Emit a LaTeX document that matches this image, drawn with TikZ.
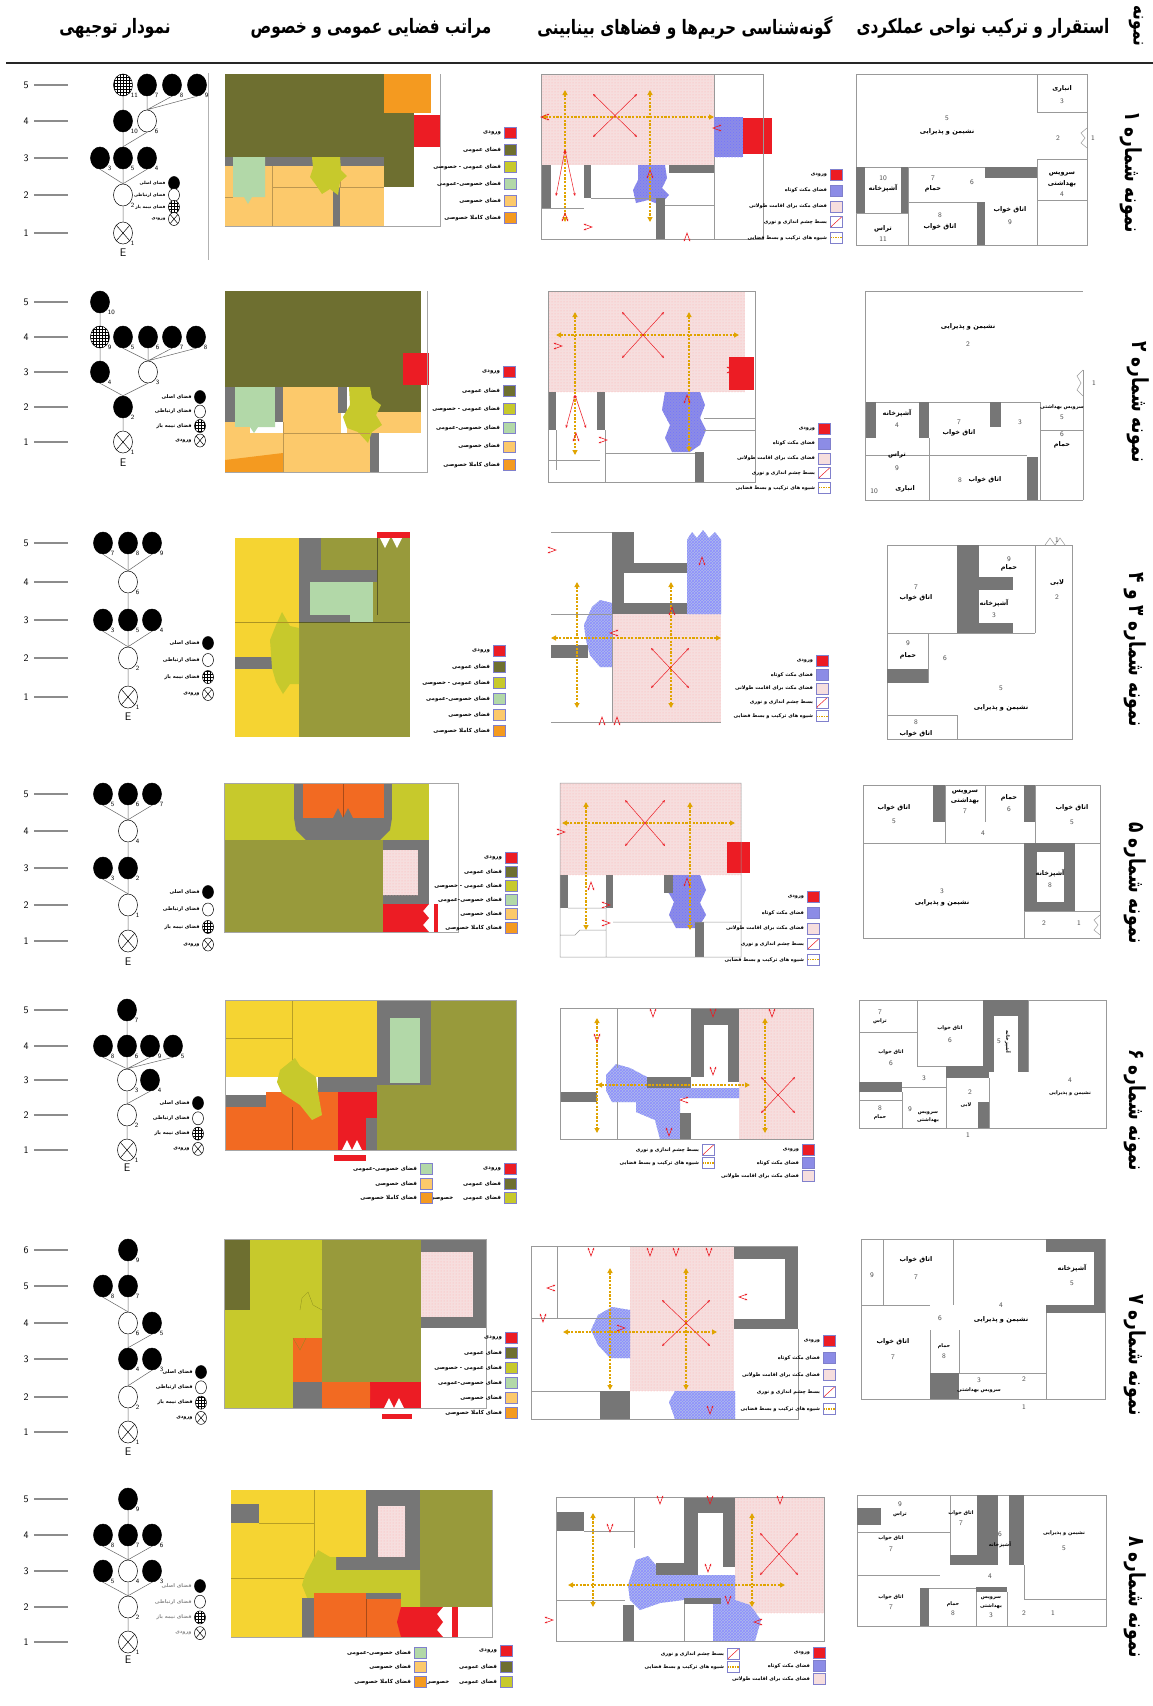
\documentclass[tikz,border=0pt]{standalone}
\usepackage{fontspec}
\usepackage{graphicx}
\newfontfamily\persian[Script=Arabic]{DejaVu Sans}
\TeXXeTstate=1
\usetikzlibrary{shapes.geometric,arrows.meta,patterns}
\definecolor{olv}{HTML}{6E6F30}
\definecolor{olv2}{HTML}{989A3B}
\definecolor{ygr}{HTML}{C7C92C}
\definecolor{lgr}{HTML}{B2D8A8}
\definecolor{lor}{HTML}{FCC96B}
\definecolor{org}{HTML}{F49A20}
\definecolor{ylw}{HTML}{F5D432}
\definecolor{ored}{HTML}{F26A22}
\definecolor{rd}{HTML}{EC1C24}
\definecolor{wll}{HTML}{767676}
\definecolor{pnk}{HTML}{F6DEDE}
\definecolor{blu}{HTML}{8C8CE6}
\definecolor{blu2}{HTML}{AEBCEA}
\definecolor{gld}{HTML}{E0A400}
\newcommand\pfa[1]{{\persian\beginR #1\endR}}
\newcommand\bigfa[1]{\scalebox{1}[1.3]{\pfa{#1}}}
\newcount\nid
\def\tlsz{5}
\tikzset{
 hdr/.style={font=\persian\bfseries\fontsize{15.3}{18}\selectfont, inner sep=0pt},
 rlab/.style={font=\persian\bfseries\fontsize{17}{20}\selectfont, inner sep=0pt, rotate=-90},
 levn/.style={font=\sffamily\fontsize{10}{11}\selectfont, inner sep=0pt},
 levl/.style={draw=black!45, line width=1.3pt},
 tnode/.style={ellipse, draw=black, line width=0.5pt, minimum width=19pt, minimum height=22pt, inner sep=0pt},
 tm/.style={tnode, fill=black},
 tc/.style={tnode, fill=white},
 ts/.style={tnode, preaction={fill=white}, pattern=grid, pattern color=black},
 te/.style={tnode, fill=white, path picture={\draw[line width=0.5pt] (path picture bounding box.south west) -- (path picture bounding box.north east) (path picture bounding box.north west) -- (path picture bounding box.south east);}},
 tl/.style={minimum width=11pt, minimum height=13pt},
 tnum/.style={font=\sffamily\fontsize{6.5}{7}\selectfont, inner sep=0.3pt},
 lab/.style={label={[tnum]-45:#1}},
 efont/.style={font=\sffamily\fontsize{11}{12}\selectfont, inner sep=0pt},
 tedge/.style={draw=black!60, line width=0.5pt},
 tlt/.style={font=\persian\bfseries\fontsize{\tlsz}{6}\selectfont, inner sep=0pt, anchor=east},
 zbox/.style={draw=black!40!blue!50, line width=0.6pt, minimum width=12pt, minimum height=11pt, inner sep=0pt},
 ztxt/.style={font=\persian\bfseries\fontsize{5.5}{6}\selectfont, inner sep=0pt, anchor=east},
 ptxt/.style={font=\persian\bfseries\fontsize{5}{6}\selectfont, inner sep=0pt, anchor=east},
 pview/.style={fill=white, path picture={\draw[rd, line width=0.5pt,-{Stealth[length=2pt]}] (path picture bounding box.north east) -- (path picture bounding box.south west);}},
 pcomp/.style={fill=white, path picture={\draw[gld, line width=1.2pt, dash pattern=on 1.5pt off 1pt] (path picture bounding box.west) -- (path picture bounding box.east);}},
 pinkfill/.style={fill=pnk, postaction={pattern=dots, pattern color=red!30}},
 blufill/.style={fill=blu, postaction={pattern=crosshatch dots, pattern color=blue!55}},
 blu2fill/.style={fill=blu2, postaction={pattern=crosshatch, pattern color=blue!45}},
 plan/.style={draw=black!40, line width=0.5pt},
 garrow/.style={draw=gld, line width=1.6pt, dash pattern=on 2.2pt off 1.4pt, {Triangle[length=5pt,width=5pt]}-{Triangle[length=5pt,width=5pt]}},
 rarrow/.style={draw=rd, line width=0.5pt, {Stealth[length=3pt,width=2.5pt]}-{Stealth[length=3pt,width=2.5pt]}},
 rzig/.style={draw=rd, line width=0.6pt, {Stealth[length=2.5pt,width=2pt]}-{Stealth[length=2.5pt,width=2pt]}},
 fpl/.style={font=\persian\bfseries\fontsize{6.5}{7}\selectfont, inner sep=0pt},
 fps/.style={font=\persian\bfseries\fontsize{5}{6}\selectfont, inner sep=0pt},
 fpn/.style={font=\sffamily\fontsize{7}{8}\selectfont, text=black!70, inner sep=0pt},
}
\newcommand\lev[2]{\global\advance\nid by 1\relax
 \node[levn] (v\the\nid) at (26,#1) {#2};
 \draw[levl] (34,#1) -- (68,#1);}
\newcommand\tleg[4]{\global\advance\nid by 1\relax
 \node[tm,tl] (la\the\nid) at (#1,#2) {};
 \node[tlt,text=#4] (lat\the\nid) at ([xshift=-2.5pt]la\the\nid.west) {\persian\beginR فضای اصلی\endR};
 \node[tc,tl] (lb\the\nid) at (#1,#2+#3) {};
 \node[tlt,text=#4] (lbt\the\nid) at ([xshift=-2.5pt]lb\the\nid.west) {\persian\beginR فضای ارتباطی\endR};
 \node[ts,tl] (lc\the\nid) at (#1,#2+2*#3) {};
 \node[tlt,text=#4] (lct\the\nid) at ([xshift=-2.5pt]lc\the\nid.west) {\persian\beginR فضای نیمه باز\endR};
 \node[te,tl] (ld\the\nid) at (#1,#2+3*#3) {};
 \node[tlt,text=#4] (ldt\the\nid) at ([xshift=-2.5pt]ld\the\nid.west) {\persian\beginR ورودی\endR};}
\newcommand\zitem[4]{\global\advance\nid by 1\relax
 \node[zbox,fill=#3] (zb\the\nid) at (#1,#2) {};
 \node[ztxt] (zt\the\nid) at ([xshift=-2.5pt]zb\the\nid.west) {\persian #4};}
\newcommand\zlegend[3]{%
 \zitem{#1}{#2}{rd}{\beginR ورودی\endR}
 \zitem{#1}{#2+#3}{olv}{\beginR فضای عمومی\endR}
 \zitem{#1}{#2+2*#3}{ygr}{\beginR فضای عمومی - خصوصی\endR}
 \zitem{#1}{#2+3*#3}{lgr}{\beginR فضای خصوصی-عمومی\endR}
 \zitem{#1}{#2+4*#3}{lor}{\beginR فضای خصوصی\endR}
 \zitem{#1}{#2+5*#3}{org}{\beginR فضای کاملا خصوصی\endR}}
\newcommand\pitem[4]{\global\advance\nid by 1\relax
 \node[zbox,#3] (pb\the\nid) at (#1,#2) {};
 \node[ptxt] (pt\the\nid) at ([xshift=-2.5pt]pb\the\nid.west) {\persian #4};}
\newcommand\plegend[3]{%
 \pitem{#1}{#2}{fill=rd}{\beginR ورودی\endR}
 \pitem{#1}{#2+#3}{fill=blu}{\beginR فضای مکث کوتاه\endR}
 \pitem{#1}{#2+2*#3}{fill=pnk}{\beginR فضای مکث برای اقامت طولانی\endR}
 \pitem{#1}{#2+3*#3}{pview}{\beginR بسط چشم اندازی و نوری\endR}
 \pitem{#1}{#2+4*#3}{pcomp}{\beginR شیوه های ترکیب و بسط فضایی\endR}}
\newcommand\vmark[3]{\draw[rzig] ([shift={(#3+20:9)}]#1,#2) -- (#1,#2) -- ([shift={(#3-20:9)}]#1,#2);}
\begin{document}
\begin{tikzpicture}[x=1pt,y=-1pt]
\useasboundingbox (0,0) rectangle (1153,1706);
\fill[white] (0,0) rectangle (1153,1706);
% ---------------- header ----------------
\node[hdr] (h1) at (115,28) {\bigfa{نمودار توجیهی}};
\node[hdr] (h2) at (371,28) {\bigfa{مراتب فضایی عمومی و خصوص}};
\node[hdr] (h3) at (685,28) {\bigfa{گونه^^^^200cشناسی حریم^^^^200cها و فضاهای بینابینی}};
\node[hdr] (h4) at (983,28) {\bigfa{استقرار و ترکیب نواحی عملکردی}};
\node[hdr,rotate=-90] (h5) at (1136,26) {\bigfa{نمونه}};
\draw[black!85, line width=1.8pt] (6,63) -- (1153,63);
% ================= ROW 1 =================
\lev{85}{5}\lev{121}{4}\lev{158}{3}\lev{195}{2}\lev{233}{1}
\node[te,lab=1] (a1) at (123,233) {};
\node[efont] (aE) at (123,253) {E};
\node[tc,lab=2] (a2) at (123,195) {};
\node[tm,lab=3] (a3) at (100,158) {};
\node[tm,lab=5] (a5) at (123,158) {};
\node[tm,lab=4] (a4) at (147,158) {};
\node[tm,lab=10] (a10) at (123,121) {};
\node[tc,lab=6] (a6) at (147,121) {};
\node[ts,lab=11] (a11) at (123,85) {};
\node[tm,lab=7] (a7) at (147,85) {};
\node[tm,lab=8] (a8) at (172,85) {};
\node[tm,lab=9] (a9) at (197,85) {};
\draw[tedge] (a1)--(a2) (a2.north)--(a3.south) (a2.north)--(a5.south) (a2.north)--(a4.south) (a5)--(a10) (a5.north)--(a6.south) (a10)--(a11) (a6.north)--(a7.south) (a6.north)--(a8.south) (a6.north)--(a9.south);
\def\tlsz{4.3}
\tleg{174}{183}{12}{black}
\def\tlsz{5}
\draw[black!30, line width=0.5pt] (208,73) -- (208,260);
% zoning 1
\fill[olv] (225,74) rectangle (414,157);
\fill[olv] (384,157) rectangle (414,187);
\fill[org] (384,74) rectangle (431,113);
\fill[rd] (414,115) rectangle (440,147);
\fill[wll] (225,157) rectangle (384,166);
\fill[lor] (225,166) rectangle (384,226);
\fill[lgr] (233,157) -- (265,157) -- (265,197) -- (252,197) -- (248,204) -- (244,197) -- (233,197) -- cycle;
\fill[wll] (333,187) rectangle (340,226);
\draw[lor!75!black, line width=0.3pt] (272,166) -- (272,226) (225,197) -- (233,197) (272,187) -- (384,187) (340,166) -- (340,187);
\fill[ygr] (312,157) -- (340,157) -- (341,170) -- (347,176) -- (340,182) -- (338,195) -- (330,189) -- (322,194) -- (316,185) -- (310,177) -- (313,168) -- cycle;
\draw[black!35, line width=0.4pt] (440,74) -- (440,226) -- (225,226);
\zlegend{510}{133}{17}
% pink plan 1
\path[pinkfill] (541,74) rectangle (714,165);
\path[blufill] (714,117) rectangle (743,157);
\fill[rd] (743,118) rectangle (772,154);
\path[blufill] (638,165) -- (665,165) -- (667,178) -- (662,188) -- (669,195) -- (660,205) -- (648,200) -- (636,203) -- (633,190) -- (638,180) -- cycle;
\fill[wll] (541,165) rectangle (551,208);
\fill[wll] (584,165) rectangle (591,198);
\fill[wll] (656,198) rectangle (665,239);
\fill[wll] (669,165) rectangle (714,173);
\draw[plan] (541,74) rectangle (763,239) (714,74) -- (714,117) (714,157) -- (714,239) (541,208) -- (584,208) (591,198) -- (656,198) (665,205) -- (714,205);
\draw[garrow] (541,117) -- (714,117);
\draw[garrow] (565,90) -- (565,222);
\draw[garrow] (650,90) -- (650,222);
\draw[rarrow] (593,94) -- (637,137);
\draw[rarrow] (637,94) -- (593,137);
\draw[rarrow] (565,150) -- (556,196);
\draw[rarrow] (565,150) -- (575,196);
\vmark{541}{117}{0}\vmark{713}{128}{0}\vmark{687}{233}{90}\vmark{592}{227}{180}\vmark{565}{213}{90}\vmark{650}{170}{90}
\plegend{836}{175}{15.7}
% floor plan 1
\draw[plan] (856,74) rectangle (1087,245) (1037,74) rectangle (1087,112) (1037,159) rectangle (1087,200) (1037,200) -- (1037,245) (856,167) -- (1037,167) (908,202) -- (985,202) (856,213) -- (908,213) (908,167) -- (908,245);
\fill[wll] (856,167) rectangle (865,213);
\fill[wll] (901,167) rectangle (908,213);
\fill[wll] (985,167) rectangle (1037,178);
\fill[wll] (977,202) rectangle (985,245);
\draw[plan] (1087,128) -- (1081,133) -- (1085,138) -- (1081,143) -- (1087,148);
\node[fpn] (f11) at (947,118) {5};
\node[fpl] (f12) at (947,132) {\pfa{نشیمن و پذیرایی}};
\node[fpl] (f13) at (1062,89) {\pfa{انباری}};
\node[fpn] (f14) at (1062,101) {3};
\node[fpn] (f15) at (1058,138) {2};
\node[fpn] (f16) at (1093,138) {1};
\node[fpl] (f17) at (1062,174) {\pfa{سرویس}};
\node[fpl] (f18) at (1062,184) {\pfa{بهداشتی}};
\node[fpn] (f19) at (1062,194) {4};
\node[fpn] (f110) at (883,178) {10};
\node[fpl] (f111) at (883,188) {\pfa{آشپزخانه}};
\node[fpn] (f112) at (933,178) {7};
\node[fpl] (f113) at (933,189) {\pfa{حمام}};
\node[fpn] (f114) at (972,182) {6};
\node[fpn] (f115) at (940,215) {8};
\node[fpl] (f116) at (940,227) {\pfa{اتاق خواب}};
\node[fpl] (f117) at (1010,210) {\pfa{اتاق خواب}};
\node[fpn] (f118) at (1010,222) {9};
\node[fpl] (f119) at (883,229) {\pfa{تراس}};
\node[fpn] (f120) at (883,239) {11};
\node[rlab] (r1) at (1131,172) {\bigfa{نمونه شماره ۱}};
% ================= ROW 2 =================
\lev{302}{5}\lev{337}{4}\lev{372}{3}\lev{407}{2}\lev{442}{1}
\node[te,lab=1] (b1) at (123,442) {};
\node[efont] (bE) at (123,463) {E};
\node[tm,lab=2] (b2) at (123,407) {};
\node[tm,lab=4] (b4) at (100,372) {};
\node[tc,lab=3] (b3) at (148,372) {};
\node[ts,lab=9] (b9) at (100,337) {};
\node[tm,lab=5] (b5) at (123,337) {};
\node[tm,lab=6] (b6) at (148,337) {};
\node[tm,lab=7] (b7) at (172,337) {};
\node[tm,lab=8] (b8) at (196,337) {};
\node[tm,lab=10] (b10) at (100,302) {};
\draw[tedge] (b1)--(b2) (b2.north)--(b4.south) (b2.north)--(b3.south) (b4)--(b9) (b9)--(b10) (b3.north)--(b5.south) (b3.north)--(b6.south) (b3.north)--(b7.south) (b3.north)--(b8.south);
\tleg{200}{397}{14.5}{black}
% zoning 2
\fill[olv] (225,291) rectangle (421,387);
\fill[olv] (370,387) rectangle (421,412);
\fill[rd] (403,353) rectangle (429,385);
\fill[wll] (225,387) rectangle (235,422);
\fill[lgr] (235,387) -- (275,387) -- (275,427) -- (258,427) -- (254,433) -- (250,427) -- (235,427) -- cycle;
\fill[wll] (275,387) rectangle (283,422);
\fill[lor] (283,387) rectangle (341,433);
\fill[wll] (338,387) rectangle (347,413);
\fill[lor] (347,412) rectangle (421,433);
\fill[lor] (225,427) rectangle (250,472);
\fill[lor] (250,433) rectangle (283,472);
\fill[lor] (225,422) rectangle (235,427);
\fill[lor] (283,433) rectangle (370,472);
\fill[org] (225,460) -- (283,453) -- (283,472) -- (225,472) -- cycle;
\fill[wll] (370,433) rectangle (379,472);
\fill[ygr] (349,387) -- (370,387) -- (372,398) -- (381,405) -- (376,415) -- (382,425) -- (372,432) -- (368,443) -- (358,432) -- (347,428) -- (343,417) -- (350,405) -- cycle;
\draw[lor!75!black, line width=0.3pt] (283,433) -- (370,433) (283,422) -- (283,472);
\draw[black!35, line width=0.4pt] (427,291) -- (427,472) -- (225,472);
\zlegend{509}{372}{18.6}
% pink plan 2
\path[pinkfill] (548,291) rectangle (745,392);
\fill[rd] (729,357) rectangle (754,390);
\path[blufill] (665,392) -- (700,392) -- (705,405) -- (700,418) -- (706,430) -- (700,445) -- (690,452) -- (672,452) -- (665,438) -- (670,425) -- (662,410) -- cycle;
\fill[wll] (548,392) rectangle (556,430);
\fill[wll] (597,392) rectangle (605,430);
\fill[wll] (695,452) rectangle (704,482);
\draw[plan] (548,291) rectangle (755,482) (548,460) -- (600,460) (605,453) -- (695,453) (704,418) -- (755,418) (704,430) -- (755,430) (605,430) -- (605,482) (556,430) -- (556,470);
\draw[garrow] (556,335) -- (739,335);
\draw[garrow] (575,312) -- (575,455);
\draw[garrow] (689,312) -- (689,452);
\draw[rarrow] (622,312) -- (664,358);
\draw[rarrow] (664,312) -- (622,358);
\draw[rarrow] (575,395) -- (566,428);
\draw[rarrow] (575,395) -- (586,428);
\vmark{562}{346}{180}\vmark{607}{440}{180}\vmark{576}{433}{90}\vmark{687}{395}{90}\vmark{735}{370}{180}
\plegend{824}{429}{14.7}
% floor plan 2
\draw[plan] (865,291) -- (1083,291) (865,291) -- (865,500) -- (1083,500) (1083,370) -- (1083,500) (865,402) -- (1040,402) (1040,402) -- (1040,500) (1040,430) -- (1083,430) (865,455) -- (929,455) (929,438) -- (929,500) (929,455) -- (1027,455);
\draw[plan] (1083,370) -- (1077,376) -- (1081,383) -- (1077,390) -- (1083,396);
\fill[wll] (866,402) rectangle (876,438);
\fill[wll] (919,402) rectangle (929,438);
\fill[wll] (990,402) rectangle (1001,427);
\fill[wll] (1027,457) rectangle (1038,500);
\node[fpl] (f21) at (968,327) {\pfa{نشیمن و پذیرایی}};
\node[fpn] (f22) at (968,344) {2};
\node[fpn] (f23) at (1094,383) {1};
\node[fpl] (f24) at (897,413) {\pfa{آشپزخانه}};
\node[fpn] (f25) at (897,425) {4};
\node[fpn] (f26) at (959,422) {7};
\node[fpl] (f27) at (959,433) {\pfa{اتاق خواب}};
\node[fpn] (f28) at (1020,422) {3};
\node[fps] (f29) at (1062,407) {\pfa{سرویس بهداشتی}};
\node[fpn] (f210) at (1062,417) {5};
\node[fpn] (f211) at (1062,434) {6};
\node[fpl] (f212) at (1062,445) {\pfa{حمام}};
\node[fpl] (f213) at (897,455) {\pfa{تراس}};
\node[fpn] (f214) at (897,468) {9};
\node[fpn] (f215) at (960,480) {8};
\node[fpl] (f216) at (985,480) {\pfa{اتاق خواب}};
\node[fpn] (f217) at (874,491) {10};
\node[fpl] (f218) at (905,489) {\pfa{انباری}};
\node[rlab] (r2) at (1138,402) {\bigfa{نمونه شماره ۲}};
% ================= ROW 3 =================
\lev{543}{5}\lev{582}{4}\lev{620}{3}\lev{658}{2}\lev{697}{1}
\node[te,lab=1] (c1) at (128,697) {};
\node[efont] (cE) at (128,717) {E};
\node[tc,lab=2] (c2) at (128,658) {};
\node[tm,lab=3] (c3) at (103,620) {};
\node[tm,lab=5] (c5) at (128,620) {};
\node[tm,lab=4] (c4) at (152,620) {};
\node[tc,lab=6] (c6) at (128,582) {};
\node[tm,lab=7] (c7) at (103,543) {};
\node[tm,lab=8] (c8) at (128,543) {};
\node[tm,lab=9] (c9) at (152,543) {};
\draw[tedge] (c1)--(c2) (c2.north)--(c3.south) (c2.north)--(c5.south) (c2.north)--(c4.south) (c5)--(c6) (c6.north)--(c7.south) (c6.north)--(c8.south) (c6.north)--(c9.south);
\tleg{208}{643}{17}{black}
% zoning 3
\fill[ylw] (235,538) rectangle (299,737);
\fill[olv2] (299,538) rectangle (410,737);
\fill[wll] (299,538) rectangle (321,570);
\fill[wll] (299,570) rectangle (377,582);
\fill[wll] (299,582) rectangle (310,623);
\fill[lgr] (310,582) rectangle (373,623);
\fill[wll] (299,615) rectangle (350,623);
\fill[rd] (377,532) rectangle (410,538);
\fill[white] (380,538) -- (385,548) -- (390,538) -- cycle;
\fill[white] (392,538) -- (397,548) -- (402,538) -- cycle;
\draw[olv!80!black, line width=0.4pt] (377,538) -- (377,615) (299,622) -- (410,622);
\fill[wll] (235,657) rectangle (277,669);
\fill[ygr] (270,640) -- (276,625) -- (282,612) -- (290,626) -- (299,628) -- (299,684) -- (290,684) -- (283,694) -- (276,682) -- (272,668) -- cycle;
\draw[ylw!70!black, line width=0.3pt] (235,622) -- (299,622);
\zlegend{499}{651}{16}
% pink plan 3
\path[pinkfill] (612,614) rectangle (721,722);
\path[blu2fill] (687,540) -- (692,532) -- (697,538) -- (703,530) -- (709,538) -- (715,532) -- (721,540) -- (721,614) -- (687,614) -- cycle;
\path[blu2fill] (584,625) -- (592,607) -- (600,600) -- (612,603) -- (612,667) -- (600,667) -- (590,655) -- (586,640) -- cycle;
\fill[wll] (612,532) rectangle (634,563);
\fill[wll] (612,563) rectangle (687,573);
\fill[wll] (612,573) rectangle (624,614);
\fill[wll] (624,603) rectangle (687,614);
\fill[wll] (551,645) rectangle (588,658);
\draw[plan] (551,532) -- (612,532) (551,614) -- (612,614) (551,722) -- (721,722) (612,614) -- (612,722);
\draw[garrow] (551,638) -- (721,638);
\draw[garrow] (577,582) -- (577,708);
\draw[garrow] (671,582) -- (671,708);
\draw[rarrow] (651,648) -- (689,688);
\draw[rarrow] (689,648) -- (651,688);
\vmark{556}{550}{180}\vmark{602}{717}{90}\vmark{617}{717}{90}\vmark{702}{557}{90}\vmark{672}{607}{90}\vmark{610}{633}{0}
\plegend{822}{661}{13.8}
% floor plan 3
\draw[plan] (887,545) rectangle (1072,739) (887,633) -- (1035,633) (1035,545) -- (1035,633) (928,633) -- (928,683) (887,715) -- (957,715) (957,715) -- (957,739) (957,545) -- (957,633);
\draw[plan] (1045,545) -- (1050,538) -- (1055,545) -- (1060,538) -- (1065,545);
\fill[wll] (957,545) rectangle (979,633);
\fill[wll] (979,577) rectangle (1013,590);
\fill[wll] (957,623) rectangle (1013,633);
\fill[wll] (887,669) rectangle (928,683);
\node[fpn] (f31) at (1009,559) {9};
\node[fpl] (f32) at (1009,568) {\pfa{حمام}};
\node[fpl] (f33) at (1057,583) {\pfa{لابی}};
\node[fpn] (f34) at (1057,597) {2};
\node[fpn] (f35) at (1057,540) {1};
\node[fpn] (f36) at (916,587) {7};
\node[fpl] (f37) at (916,598) {\pfa{اتاق خواب}};
\node[fpl] (f38) at (994,603) {\pfa{آشپزخانه}};
\node[fpn] (f39) at (994,615) {3};
\node[fpn] (f310) at (908,643) {9};
\node[fpl] (f311) at (908,656) {\pfa{حمام}};
\node[fpn] (f312) at (945,658) {6};
\node[fpn] (f313) at (1001,688) {5};
\node[fpl] (f314) at (1001,708) {\pfa{نشیمن و پذیرایی}};
\node[fpn] (f315) at (916,722) {8};
\node[fpl] (f316) at (916,734) {\pfa{اتاق خواب}};
\node[rlab] (r3) at (1135,650) {\bigfa{نمونه شماره ۳ و ۴}};
% ================= ROW 4 =================
\lev{794}{5}\lev{831}{4}\lev{868}{3}\lev{905}{2}\lev{941}{1}
\node[te] (d1) at (128,941) {};
\node[efont] (dE) at (128,962) {E};
\node[tc,lab=1] (d2) at (128,905) {};
\node[tm,lab=3] (d3) at (103,868) {};
\node[tm,lab=2] (d3b) at (128,868) {};
\node[tc,lab=4] (d4) at (128,831) {};
\node[tm,lab=5] (d5) at (103,794) {};
\node[tm,lab=6] (d6) at (128,794) {};
\node[tm,lab=7] (d7) at (152,794) {};
\draw[tedge] (d1)--(d2) (d2.north)--(d3.south) (d2.north)--(d3b.south) (d3b)--(d4) (d4.north)--(d5.south) (d4.north)--(d6.south) (d4.north)--(d7.south);
\tleg{208}{892}{17.5}{black}
% zoning 4
\fill[ygr] (224,783) rectangle (429,840);
\fill[wll] (294,783) rectangle (392,818);
\fill[ored] (303,783) rectangle (384,818);
\draw[ored!70!black, line width=0.3pt] (343,783) -- (343,818);
\fill[wll] (294,818) -- (333,818) -- (338,808) -- (343,818) -- (348,808) -- (353,818) -- (392,818) -- (390,830) -- (380,840) -- (306,840) -- (296,830) -- cycle;
\fill[olv2] (224,840) rectangle (383,932);
\fill[wll] (383,840) rectangle (429,904);
\path[pinkfill] (383,850) rectangle (418,895);
\fill[rd] (383,904) -- (429,904) -- (423,911) -- (429,918) -- (423,925) -- (429,932) -- (383,932) -- cycle;
\fill[rd] (434,904) rectangle (438,932);
\draw[black!35, line width=0.4pt] (224,783) rectangle (458,932);
\zlegend{511}{858}{14}
% pink plan 4
\path[pinkfill] (560,783) rectangle (741,875);
\fill[rd] (727,842) rectangle (750,873);
\path[blufill] (669,875) -- (700,875) -- (706,890) -- (700,903) -- (706,915) -- (698,928) -- (676,928) -- (669,915) -- (674,902) -- (667,890) -- cycle;
\fill[wll] (560,875) rectangle (568,908);
\fill[wll] (606,875) rectangle (613,908);
\fill[wll] (664,875) rectangle (673,893);
\fill[wll] (695,922) rectangle (704,957);
\draw[plan] (560,783) rectangle (741,957) (568,908) -- (606,908) (613,922) -- (741,922) (606,908) -- (606,957) (560,935) -- (575,935) -- (580,930) -- (606,930);
\draw[garrow] (562,823) -- (735,823);
\draw[garrow] (586,802) -- (586,930);
\draw[garrow] (690,802) -- (690,930);
\draw[rarrow] (625,800) -- (665,846);
\draw[rarrow] (665,800) -- (625,846);
\vmark{565}{832}{180}\vmark{591}{882}{90}\vmark{610}{923}{180}\vmark{687}{878}{90}\vmark{610}{905}{180}
\plegend{813}{897}{15.7}
% floor plan 4
\draw[plan] (863,785) rectangle (1100,938) (863,843) -- (1100,843) (945,785) -- (945,843) (985,785) -- (985,822) (1035,785) -- (1035,843) (1024,911) -- (1100,911) (1024,843) -- (1024,938);
\draw[plan] (1100,915) -- (1094,920) -- (1098,925) -- (1094,930) -- (1100,935);
\fill[wll] (933,785) rectangle (945,822);
\fill[wll] (1024,785) rectangle (1035,822);
\fill[wll] (1024,843) rectangle (1075,911);
\fill[white] (1037,852) rectangle (1064,902);
\node[fpl] (f41) at (894,808) {\pfa{اتاق خواب}};
\node[fpn] (f42) at (894,821) {5};
\node[fpl] (f43) at (965,792) {\pfa{سرویس}};
\node[fpl] (f44) at (965,801) {\pfa{بهداشتی}};
\node[fpn] (f45) at (965,811) {7};
\node[fpl] (f46) at (1009,798) {\pfa{حمام}};
\node[fpn] (f47) at (1009,809) {6};
\node[fpl] (f48) at (1072,808) {\pfa{اتاق خواب}};
\node[fpn] (f49) at (1072,822) {5};
\node[fpn] (f410) at (983,833) {4};
\node[fpl] (f411) at (1050,873) {\pfa{آشپزخانه}};
\node[fpn] (f412) at (1050,885) {8};
\node[fpn] (f413) at (942,891) {3};
\node[fpl] (f414) at (942,903) {\pfa{نشیمن و پذیرایی}};
\node[fpn] (f415) at (1044,923) {2};
\node[fpn] (f416) at (1079,923) {1};
\node[rlab] (r4) at (1135,883) {\bigfa{نمونه شماره ۵}};
% ================= ROW 5 =================
\lev{1010}{5}\lev{1046}{4}\lev{1080}{3}\lev{1115}{2}\lev{1150}{1}
\node[te,lab=1] (e1) at (127,1150) {};
\node[efont] (eE) at (127,1168) {E};
\node[tc,lab=2] (e2) at (127,1115) {};
\node[tc,lab=3] (e3) at (127,1080) {};
\node[tm,lab=4] (e4) at (150,1080) {};
\node[tm,lab=8] (e8) at (103,1046) {};
\node[tm,lab=6] (e6) at (127,1046) {};
\node[tm,lab=9] (e9) at (150,1046) {};
\node[tm,lab=5] (e5) at (173,1046) {};
\node[tm,lab=7] (e7) at (127,1010) {};
\draw[tedge] (e1)--(e2) (e2)--(e3) (e2.north)--(e4.south) (e3.north)--(e8.south) (e3.north)--(e6.south) (e3.north)--(e9.south) (e3.north)--(e5.south) (e6)--(e7);
\tleg{198}{1103}{15.3}{black}
% zoning 5
\fill[ylw] (225,1000) rectangle (377,1077);
\draw[ylw!75!black, line width=0.3pt] (292,1000) -- (292,1077) (225,1038) -- (292,1038);
\fill[wll] (377,1000) rectangle (431,1085);
\fill[lgr] (390,1018) rectangle (420,1083);
\fill[olv2] (431,1000) rectangle (516,1150);
\fill[olv2] (377,1085) rectangle (431,1150);
\fill[wll] (225,1095) rectangle (266,1107);
\fill[wll] (318,1077) rectangle (377,1092);
\fill[ored] (225,1107) rectangle (338,1150);
\fill[ored] (266,1092) rectangle (338,1107);
\fill[rd] (338,1092) rectangle (377,1150);
\fill[wll] (366,1118) rectangle (377,1150);
\fill[white] (342,1150) -- (347,1140) -- (352,1150) -- (357,1140) -- (362,1150) -- cycle;
\fill[ygr] (280,1070) -- (295,1058) -- (300,1066) -- (316,1077) -- (318,1092) -- (322,1115) -- (312,1120) -- (300,1105) -- (282,1093) -- (277,1082) -- cycle;
\draw[ored!70!black, line width=0.3pt] (292,1107) -- (292,1150);
\fill[rd] (334,1155) rectangle (366,1161);
\draw[black!35, line width=0.4pt] (225,1000) rectangle (516,1150);
\zitem{510}{1169}{rd}{\beginR ورودی\endR}
\zitem{510}{1184}{olv}{\beginR فضای عمومی\endR}
\zitem{510}{1198}{ygr}{\beginR فضای عمومی \hspace{6pt} خصوصی\endR}
\zitem{426}{1169}{lgr}{\beginR فضای خصوصی-عمومی\endR}
\zitem{426}{1184}{lor}{\beginR فضای خصوصی\endR}
\zitem{426}{1198}{org}{\beginR فضای کاملا خصوصی\endR}
% pink plan 5
\path[pinkfill] (739,1008) rectangle (813,1139);
\path[blu2fill] (606,1075) -- (616,1064) -- (630,1068) -- (647,1077) -- (647,1088) -- (739,1088) -- (739,1098) -- (680,1098) -- (680,1139) -- (660,1139) -- (655,1120) -- (636,1112) -- (636,1102) -- (612,1102) -- (606,1090) -- cycle;
\fill[wll] (691,1008) rectangle (739,1025);
\fill[wll] (691,1008) rectangle (704,1077);
\fill[wll] (728,1008) rectangle (739,1082);
\fill[wll] (647,1077) rectangle (691,1088);
\fill[wll] (680,1113) rectangle (691,1139);
\fill[wll] (560,1092) rectangle (597,1102);
\draw[plan] (560,1008) rectangle (813,1139) (617,1008) -- (617,1068) (617,1102) -- (617,1139);
\draw[garrow] (597,1085) -- (750,1085);
\draw[garrow] (597,1018) -- (597,1133);
\draw[garrow] (765,1018) -- (765,1133);
\draw[rarrow] (761,1077) -- (795,1113);
\draw[rarrow] (795,1077) -- (761,1113);
\vmark{653}{1017}{-90}\vmark{713}{1017}{-90}\vmark{772}{1017}{-90}\vmark{597}{1042}{-90}\vmark{713}{1075}{-90}\vmark{669}{1136}{-90}\vmark{680}{1100}{0}
\pitem{808}{1150}{fill=rd}{\beginR ورودی\endR}
\pitem{808}{1163}{fill=blu}{\beginR فضای مکث کوتاه\endR}
\pitem{808}{1176}{fill=pnk}{\beginR فضای مکث برای اقامت طولانی\endR}
\pitem{708}{1150}{pview}{\beginR بسط چشم اندازی و نوری\endR}
\pitem{708}{1163}{pcomp}{\beginR شیوه های ترکیب و بسط فضایی\endR}
% floor plan 5
\draw[plan] (859,1000) rectangle (1106,1128) (917,1000) -- (917,1066) (859,1032) -- (917,1032) (917,1066) -- (946,1066) (902,1087) -- (946,1087) (946,1078) -- (946,1128) (989,1078) -- (989,1128) (1028,1072) -- (1028,1000) (859,1100) -- (902,1100) (902,1092) -- (902,1128);
\fill[wll] (983,1000) rectangle (1028,1016);
\fill[wll] (983,1000) rectangle (994,1072);
\fill[wll] (1018,1000) rectangle (1028,1072);
\fill[wll] (946,1066) rectangle (989,1078);
\fill[wll] (859,1082) rectangle (902,1092);
\fill[wll] (978,1102) rectangle (989,1128);
\node[fpn] (f51) at (880,1012) {7};
\node[fps] (f52) at (880,1021) {\pfa{تراس}};
\node[fps] (f53) at (950,1028) {\pfa{اتاق خواب}};
\node[fpn] (f54) at (950,1040) {6};
\node[fpn] (f55) at (999,1041) {5};
\node[fps,rotate=-90] (f56) at (1008,1042) {\pfa{آشپزخانه}};
\node[fps] (f57) at (891,1052) {\pfa{اتاق خواب}};
\node[fpn] (f58) at (891,1063) {6};
\node[fpn] (f59) at (924,1078) {3};
\node[fpn] (f510) at (970,1092) {2};
\node[fps] (f511) at (966,1105) {\pfa{لابی}};
\node[fpn] (f512) at (1070,1080) {4};
\node[fps] (f513) at (1070,1093) {\pfa{نشیمن و پذیرایی}};
\node[fpn] (f514) at (880,1108) {8};
\node[fps] (f515) at (880,1117) {\pfa{حمام}};
\node[fpn] (f516) at (910,1109) {9};
\node[fps] (f517) at (928,1113) {\pfa{سرویس}};
\node[fps] (f518) at (928,1120) {\pfa{بهداشتی}};
\node[fpn] (f519) at (968,1135) {1};
\node[rlab] (r5) at (1135,1110) {\bigfa{نمونه شماره ۶}};
% ================= ROW 6 =================
\lev{1250}{6}\lev{1286}{5}\lev{1323}{4}\lev{1359}{3}\lev{1397}{2}\lev{1432}{1}
\node[te,lab=1] (g1) at (128,1432) {};
\node[efont] (gE) at (128,1452) {E};
\node[tc,lab=2] (g2) at (128,1397) {};
\node[tm,lab=4] (g4) at (128,1359) {};
\node[tm,lab=3] (g3) at (152,1359) {};
\node[tc,lab=6] (g6) at (128,1323) {};
\node[tm,lab=5] (g5) at (152,1323) {};
\node[tm,lab=8] (g8) at (103,1286) {};
\node[tm,lab=7] (g7) at (128,1286) {};
\node[tm,lab=9] (g9) at (128,1250) {};
\draw[tedge] (g1)--(g2) (g2)--(g4) (g2.north)--(g3.south) (g4)--(g6) (g4.north)--(g5.south) (g6)--(g7) (g6.north)--(g8.south) (g7)--(g9);
\tleg{201}{1372}{15.3}{black}
% zoning 6
\fill[olv] (224,1239) rectangle (250,1310);
\fill[ygr] (250,1239) rectangle (322,1310);
\fill[ygr] (224,1310) rectangle (322,1408);
\fill[olv2] (322,1239) rectangle (421,1382);
\fill[wll] (421,1239) rectangle (486,1328);
\path[pinkfill] (421,1252) rectangle (473,1317);
\fill[ored] (293,1338) rectangle (322,1382);
\fill[wll] (293,1382) rectangle (322,1408);
\fill[ored] (322,1382) rectangle (370,1408);
\fill[rd] (370,1382) rectangle (421,1408);
\fill[ored] (360,1390) -- (370,1386) -- (370,1400) -- cycle;
\fill[white] (384,1408) -- (389,1398) -- (394,1408) -- (399,1398) -- (404,1408) -- cycle;
\fill[rd] (382,1414) rectangle (412,1419);
\draw[ygr!70!black, line width=0.3pt] (300,1310) -- (302,1298) -- (308,1292) -- (313,1305) -- (322,1310) (293,1338) -- (300,1350) -- (306,1338);
\draw[black!35, line width=0.4pt] (224,1239) rectangle (486,1408);
\zlegend{511}{1338}{15}
% pink plan 6
\path[pinkfill] (630,1246) rectangle (734,1391);
\fill[wll] (734,1246) rectangle (798,1259);
\fill[wll] (785,1246) rectangle (798,1329);
\fill[wll] (734,1319) rectangle (798,1329);
\fill[wll] (600,1391) rectangle (630,1419);
\path[blu2fill] (591,1330) -- (598,1315) -- (612,1307) -- (630,1310) -- (630,1358) -- (610,1358) -- (598,1345) -- cycle;
\path[blu2fill] (669,1402) -- (675,1391) -- (735,1391) -- (735,1419) -- (675,1419) -- cycle;
\draw[plan] (531,1246) -- (798,1246) (531,1246) -- (531,1419) -- (798,1419) -- (798,1329) (557,1246) -- (557,1318) (531,1318) -- (630,1318) (531,1391) -- (600,1391);
\draw[garrow] (563,1332) -- (717,1332);
\draw[garrow] (610,1268) -- (610,1390);
\draw[garrow] (686,1268) -- (686,1390);
\draw[rarrow] (662,1300) -- (710,1346);
\draw[rarrow] (710,1300) -- (662,1346);
\vmark{591}{1256}{-90}\vmark{650}{1256}{-90}\vmark{676}{1256}{-90}\vmark{709}{1256}{-90}\vmark{547}{1288}{0}\vmark{543}{1322}{-90}\vmark{739}{1297}{0}\vmark{625}{1328}{180}\vmark{710}{1414}{-90}
\plegend{829}{1341}{17}
% floor plan 6
\draw[plan] (861,1239) rectangle (1105,1399) (883,1239) -- (883,1305) (953,1239) -- (953,1305) (861,1305) -- (930,1305) (930,1330) -- (930,1373) (959,1373) -- (1046,1373) (1046,1313) -- (1046,1399) (959,1330) -- (959,1373);
\fill[wll] (1046,1239) rectangle (1105,1252);
\fill[wll] (1094,1239) rectangle (1105,1313);
\fill[wll] (1046,1305) rectangle (1105,1313);
\fill[wll] (930,1373) rectangle (959,1399);
\node[fpl] (f61) at (916,1260) {\pfa{اتاق خواب}};
\node[fpn] (f62) at (916,1277) {7};
\node[fpn] (f63) at (872,1275) {9};
\node[fpl] (f64) at (1072,1268) {\pfa{آشپزخانه}};
\node[fpn] (f65) at (1072,1283) {5};
\node[fpn] (f66) at (1001,1305) {4};
\node[fpl] (f67) at (1001,1320) {\pfa{نشیمن و پذیرایی}};
\node[fpn] (f68) at (940,1318) {6};
\node[fpl] (f69) at (893,1342) {\pfa{اتاق خواب}};
\node[fpn] (f610) at (893,1357) {7};
\node[fps] (f611) at (944,1346) {\pfa{حمام}};
\node[fpn] (f612) at (944,1356) {8};
\node[fpn] (f613) at (979,1380) {3};
\node[fps] (f614) at (979,1390) {\pfa{سرویس بهداشتی}};
\node[fpn] (f615) at (1024,1379) {2};
\node[fpn] (f616) at (1024,1407) {1};
\node[rlab] (r6) at (1135,1355) {\bigfa{نمونه شماره ۷}};
% ================= ROW 7 =================
\lev{1499}{5}\lev{1535}{4}\lev{1571}{3}\lev{1607}{2}\lev{1642}{1}
\node[te,lab=1] (k1) at (128,1642) {};
\node[efont] (kE) at (128,1660) {E};
\node[tc,lab=2] (k2) at (128,1607) {};
\node[tm,lab=5] (k5) at (103,1571) {};
\node[tc,lab=4] (k4) at (128,1571) {};
\node[tm,lab=3] (k3) at (152,1571) {};
\node[tm,lab=8] (k8) at (103,1535) {};
\node[tm,lab=7] (k7) at (128,1535) {};
\node[tm,lab=6] (k6) at (152,1535) {};
\node[tm,lab=9] (k9) at (128,1499) {};
\draw[tedge] (k1)--(k2) (k2.north)--(k5.south) (k2.north)--(k4.south) (k2.north)--(k3.south) (k4.north)--(k8.south) (k4.north)--(k7.south) (k4.north)--(k6.south) (k7)--(k9);
\tleg{200}{1586}{15.7}{black!45}
% zoning 7
\fill[ylw] (231,1490) rectangle (366,1557);
\fill[ylw] (231,1557) rectangle (314,1637);
\fill[wll] (231,1504) rectangle (259,1523);
\draw[ylw!75!black, line width=0.3pt] (314,1490) -- (314,1557) (259,1523) -- (314,1523) (231,1578) -- (314,1578);
\fill[wll] (366,1490) rectangle (420,1570);
\path[pinkfill] (378,1506) rectangle (405,1570);
\fill[wll] (336,1557) rectangle (420,1570);
\fill[olv2] (420,1490) rectangle (492,1607);
\fill[ygr] (305,1575) -- (318,1550) -- (330,1557) -- (336,1557) -- (336,1570) -- (420,1570) -- (420,1607) -- (330,1607) -- (320,1615) -- (308,1600) -- (302,1585) -- cycle;
\fill[wll] (302,1598) rectangle (314,1637);
\fill[ored] (314,1593) rectangle (401,1637);
\fill[wll] (366,1593) rectangle (401,1599);
\draw[ored!70!black, line width=0.3pt] (366,1599) -- (366,1637);
\fill[rd] (401,1607) -- (443,1607) -- (437,1614) -- (443,1622) -- (437,1630) -- (443,1637) -- (401,1637) -- (397,1622) -- cycle;
\fill[rd] (452,1607) rectangle (458,1637);
\draw[black!35, line width=0.4pt] (231,1637) -- (492,1637) -- (492,1490);
\zitem{506}{1651}{rd}{\beginR ورودی\endR}
\zitem{506}{1667}{olv}{\beginR فضای عمومی\endR}
\zitem{506}{1682}{ygr}{\beginR فضای عمومی \hspace{6pt} خصوصی\endR}
\zitem{420}{1653}{lgr}{\beginR فضای خصوصی-عمومی\endR}
\zitem{420}{1667}{lor}{\beginR فضای خصوصی\endR}
\zitem{420}{1682}{org}{\beginR فضای کاملا خصوصی\endR}
% pink plan 7
\path[pinkfill] (735,1497) rectangle (824,1613);
\path[blu2fill] (628,1585) -- (636,1560) -- (648,1556) -- (656,1565) -- (656,1575) -- (735,1575) -- (735,1600) -- (750,1605) -- (761,1620) -- (755,1641) -- (713,1641) -- (713,1604) -- (698,1598) -- (660,1603) -- (640,1610) -- (630,1600) -- cycle;
\fill[wll] (556,1512) rectangle (584,1531);
\fill[wll] (684,1497) rectangle (735,1513);
\fill[wll] (684,1497) rectangle (698,1575);
\fill[wll] (723,1497) rectangle (735,1567);
\fill[wll] (656,1563) rectangle (698,1575);
\fill[wll] (684,1598) rectangle (721,1604);
\fill[wll] (623,1605) rectangle (634,1641);
\draw[plan] (556,1497) rectangle (824,1641) (634,1497) -- (634,1548) (584,1531) -- (634,1531) (684,1604) -- (684,1641) (556,1600) -- (625,1600);
\draw[garrow] (568,1585) -- (785,1585);
\draw[garrow] (593,1513) -- (593,1607);
\draw[garrow] (752,1513) -- (752,1607);
\draw[rarrow] (760,1533) -- (798,1575);
\draw[rarrow] (798,1533) -- (760,1575);
\vmark{660}{1504}{-90}\vmark{710}{1504}{-90}\vmark{780}{1504}{-90}\vmark{610}{1532}{-90}\vmark{708}{1572}{-90}\vmark{728}{1604}{-90}\vmark{553}{1620}{180}\vmark{754}{1622}{0}
\pitem{819}{1653}{fill=rd}{\beginR ورودی\endR}
\pitem{819}{1666}{fill=blu}{\beginR فضای مکث کوتاه\endR}
\pitem{819}{1679}{fill=pnk}{\beginR فضای مکث برای اقامت طولانی\endR}
\pitem{733}{1654}{pview}{\beginR بسط چشم اندازی و نوری\endR}
\pitem{733}{1667}{pcomp}{\beginR شیوه های ترکیب و بسط فضایی\endR}
% floor plan 7
\draw[plan] (857,1495) rectangle (1106,1626) (950,1495) -- (950,1555) (857,1532) -- (950,1532) (857,1575) -- (940,1575) (1024,1565) -- (1024,1599) -- (1106,1599) (976,1587) -- (976,1626) (1007,1592) -- (1007,1626) (929,1588) -- (976,1588);
\fill[wll] (857,1508) rectangle (881,1525);
\fill[wll] (977,1495) rectangle (998,1565);
\fill[wll] (1009,1495) rectangle (1024,1565);
\fill[wll] (950,1555) rectangle (998,1565);
\fill[wll] (920,1588) rectangle (929,1626);
\fill[wll] (976,1587) rectangle (1007,1592);
\node[fpn] (f71) at (900,1504) {9};
\node[fps] (f72) at (900,1514) {\pfa{تراس}};
\node[fps] (f73) at (961,1513) {\pfa{اتاق خواب}};
\node[fpn] (f74) at (961,1523) {7};
\node[fpn] (f75) at (1000,1534) {6};
\node[fps] (f76) at (1000,1545) {\pfa{آشپزخانه}};
\node[fps] (f77) at (1064,1533) {\pfa{نشیمن و پذیرایی}};
\node[fpn] (f78) at (1064,1548) {5};
\node[fps] (f79) at (891,1538) {\pfa{اتاق خواب}};
\node[fpn] (f710) at (891,1549) {7};
\node[fpn] (f711) at (990,1576) {4};
\node[fps] (f712) at (891,1597) {\pfa{اتاق خواب}};
\node[fpn] (f713) at (891,1607) {7};
\node[fps] (f714) at (953,1604) {\pfa{حمام}};
\node[fpn] (f715) at (953,1613) {8};
\node[fps] (f716) at (991,1598) {\pfa{سرویس}};
\node[fps] (f717) at (991,1606) {\pfa{بهداشتی}};
\node[fpn] (f718) at (991,1615) {3};
\node[fpn] (f719) at (1024,1613) {2};
\node[fpn] (f720) at (1053,1613) {1};
\node[rlab] (r7) at (1135,1597) {\bigfa{نمونه شماره ۸}};
\end{tikzpicture}
\end{document}
